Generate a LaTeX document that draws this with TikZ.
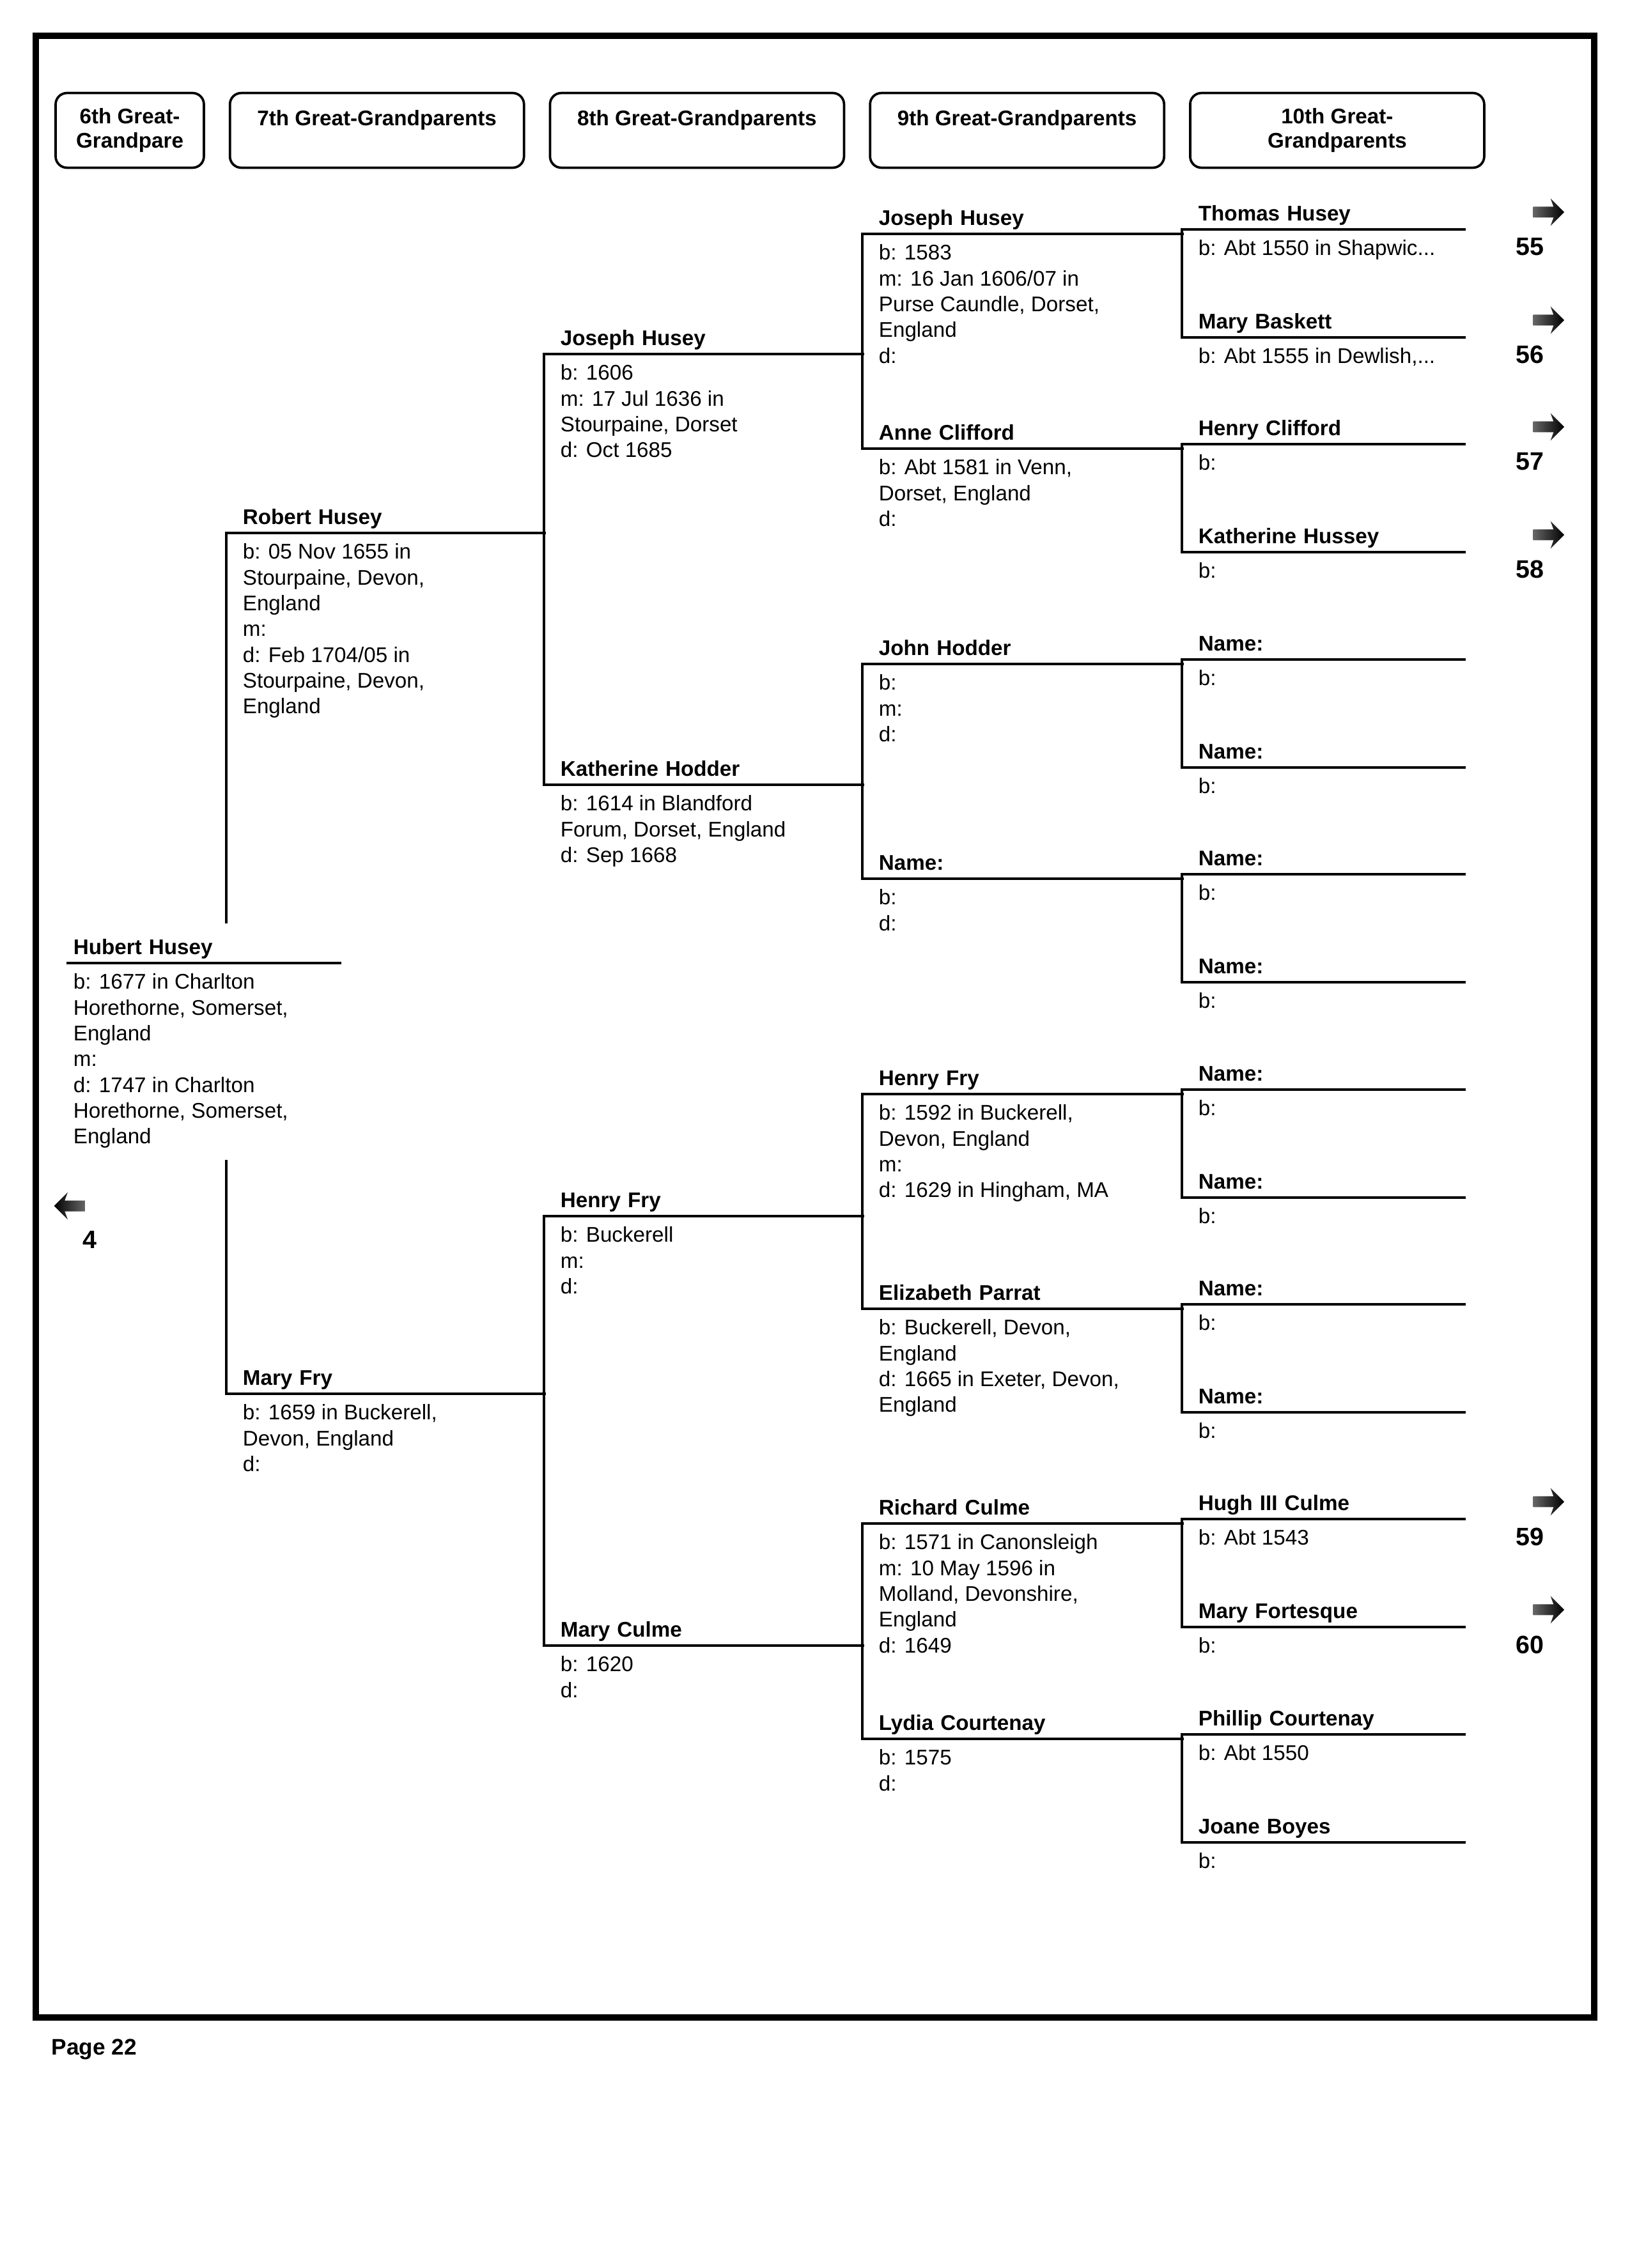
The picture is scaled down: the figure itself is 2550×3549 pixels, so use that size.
\documentclass[tikz,border=0pt]{standalone}
\usepackage{fontspec}
\setmainfont{Liberation Sans}
\usepackage{tikz}
\usetikzlibrary{positioning,shapes.arrows}
\tikzstyle{head} = [draw, line width=0.9pt, rounded corners=1.5mm,
    minimum width=38.95mm, minimum height=9.9mm, inner sep=0pt, align=center,
    font=\bfseries\fontsize{8}{9.2}\selectfont]
\tikzstyle{pname} = [anchor=south west, inner xsep=2.12mm, inner ysep=1.1mm,
    text depth=0pt, text width=37.9mm, font=\bfseries\fontsize{8}{9.7}\selectfont]
\tikzstyle{info} = [inner sep=0pt, align=left, font=\fontsize{8}{9.72}\selectfont]
\tikzstyle{jump} = [single arrow, minimum height=4.1mm, minimum width=3.4mm,
    inner xsep=0pt, inner ysep=0.65mm, single arrow head extend=1.1mm,
    single arrow head indent=0.4mm, left color=black!60, right color=black]
\tikzstyle{num} = [anchor=base, inner sep=0pt, font=\bfseries\fontsize{9.5}{11}\selectfont]
\tikzstyle{link} = [draw, line width=0.8pt, line cap=rect]

\begin{document}
\begin{tikzpicture}[x=0.084667mm, y=-0.084667mm]
  \useasboundingbox (0,0) rectangle (2550,3549);
  \draw[line width=2.6pt] (56,56) rectangle (2494,3157);
  % column heads
  \node [head, minimum width=19.64mm](g6) at (203,204){6th Great-\\Grandpare};
  \node [head, right=3.13mm of g6](g7){7th Great-Grandparents\\~};
  \node [head, right=3.13mm of g7](g8){8th Great-Grandparents\\~};
  \node [head, right=3.13mm of g8](g9){9th Great-Grandparents\\~};
  \node [head, right=3.13mm of g9](g10){10th Great-\\Grandparents};
  % people
  \node [pname, inner xsep=0.68mm, text width=34.63mm](hubert) at (106,1507){Hubert Husey};
  \node [info, below right=1.35mm and 0.68mm of hubert.south west](hubertI)
    {b: 1677 in Charlton\\Horethorne, Somerset,\\England\\m:\\d: 1747 in Charlton\\Horethorne, Somerset,\\England};

  \node [pname, text width=37.85mm](robert) at (354,834){Robert Husey};
  \node [info, below right=1.35mm and 2.12mm of robert.south west](robertI)
    {b: 05 Nov 1655 in\\Stourpaine, Devon,\\England\\m:\\d: Feb 1704/05 in\\Stourpaine, Devon,\\England};
  \node [pname, text width=37.85mm](maryfry) at (354,2181){Mary Fry};
  \node [info, below right=1.35mm and 2.12mm of maryfry.south west](maryfryI)
    {b: 1659 in Buckerell,\\Devon, England\\d:};

  \node [pname](josepha) at (851,554){Joseph Husey};
  \node [info, below right=1.35mm and 2.12mm of josepha.south west](josephaI)
    {b: 1606\\m: 17 Jul 1636 in\\Stourpaine, Dorset\\d: Oct 1685};
  \node [pname](katherine) at (851,1228){Katherine Hodder};
  \node [info, below right=1.35mm and 2.12mm of katherine.south west](katherineI)
    {b: 1614 in Blandford\\Forum, Dorset, England\\d: Sep 1668};
  \node [pname](henrya) at (851,1903){Henry Fry};
  \node [info, below right=1.35mm and 2.12mm of henrya.south west](henryaI)
    {b: Buckerell\\m:\\d:};
  \node [pname](maryculme) at (851,2575){Mary Culme};
  \node [info, below right=1.35mm and 2.12mm of maryculme.south west](maryculmeI)
    {b: 1620\\d:};

  \node [pname, text width=38.1mm](josephb) at (1349,366){Joseph Husey};
  \node [info, below right=1.35mm and 2.12mm of josephb.south west](josephbI)
    {b: 1583\\m: 16 Jan 1606/07 in\\Purse Caundle, Dorset,\\England\\d:};
  \node [pname, text width=38.1mm](anne) at (1349,702){Anne Clifford};
  \node [info, below right=1.35mm and 2.12mm of anne.south west](anneI)
    {b: Abt 1581 in Venn,\\Dorset, England\\d:};
  \node [pname, text width=38.1mm](john) at (1349,1039){John Hodder};
  \node [info, below right=1.35mm and 2.12mm of john.south west](johnI)
    {b:\\m:\\d:};
  \node [pname, text width=38.1mm](unka) at (1349,1375){Name:};
  \node [info, below right=1.35mm and 2.12mm of unka.south west](unkaI)
    {b:\\d:};
  \node [pname, text width=38.1mm](henryb) at (1349,1712){Henry Fry};
  \node [info, below right=1.35mm and 2.12mm of henryb.south west](henrybI)
    {b: 1592 in Buckerell,\\Devon, England\\m:\\d: 1629 in Hingham, MA};
  \node [pname, text width=38.1mm](elizabeth) at (1349,2048){Elizabeth Parrat};
  \node [info, below right=1.35mm and 2.12mm of elizabeth.south west](elizabethI)
    {b: Buckerell, Devon,\\England\\d: 1665 in Exeter, Devon,\\England};
  \node [pname, text width=38.1mm](richard) at (1349,2384){Richard Culme};
  \node [info, below right=1.35mm and 2.12mm of richard.south west](richardI)
    {b: 1571 in Canonsleigh\\m: 10 May 1596 in\\Molland, Devonshire,\\England\\d: 1649};
  \node [pname, text width=38.1mm](lydia) at (1349,2721){Lydia Courtenay};
  \node [info, below right=1.35mm and 2.12mm of lydia.south west](lydiaI)
    {b: 1575\\d:};

  \tikzstyle{pname4} = [pname, text width=33.1mm]
  \node [pname4](thomas) at (1849,359){Thomas Husey};
  \node [info, below right=1.35mm and 2.12mm of thomas.south west](thomasI)
    {b: Abt 1550 in Shapwic...};
  \node [pname4](marybaskett) at (1849,528){Mary Baskett};
  \node [info, below right=1.35mm and 2.12mm of marybaskett.south west](marybaskettI)
    {b: Abt 1555 in Dewlish,...};
  \node [pname4](henryc) at (1849,695){Henry Clifford};
  \node [info, below right=1.35mm and 2.12mm of henryc.south west](henrycI){b:};
  \node [pname4](katherineh) at (1849,864){Katherine Hussey};
  \node [info, below right=1.35mm and 2.12mm of katherineh.south west](katherinehI){b:};
  \foreach \i/\y in {b/1032, c/1201, d/1368, e/1537, f/1705, g/1874, h/2041, i/2210}{
    \node [pname4](unk\i) at (1849,\y){Name:};
    \node [info, below right=1.35mm and 2.12mm of unk\i.south west](unk\i I){b:};
  }
  \node [pname4](hugh) at (1849,2377){Hugh III Culme};
  \node [info, below right=1.35mm and 2.12mm of hugh.south west](hughI){b: Abt 1543};
  \node [pname4](maryf) at (1849,2546){Mary Fortesque};
  \node [info, below right=1.35mm and 2.12mm of maryf.south west](maryfI){b:};
  \node [pname4](phillip) at (1849,2714){Phillip Courtenay};
  \node [info, below right=1.35mm and 2.12mm of phillip.south west](phillipI){b: Abt 1550};
  \node [pname4](joane) at (1849,2883){Joane Boyes};
  \node [info, below right=1.35mm and 2.12mm of joane.south west](joaneI){b:};
  % jumps to other pages
  \foreach \p/\n in {thomas/55, marybaskett/56, henryc/57, katherineh/58, hugh/59, maryf/60}{
    \node [jump, above right=2.29mm and 10.75mm of \p.south east, anchor=center](go\n){};
    \node [num, below right=3.47mm and 8.64mm of \p.south east, anchor=base](no\n){\n};
  }
  \node [jump, shape border rotate=180, left color=black, right color=black!60](back) at (113,1887){};
  \node [num](no4) at (140,1953){4};
  \node [anchor=base west, inner sep=0pt, font=\bfseries\fontsize{8.5}{10}\selectfont](page) at (80,3215){Page 22};
  % edges
  \coordinate (upend) at (354,1443);
  \coordinate (dnend) at (354,1817);
  \foreach \p in {hubert, robert, maryfry, josepha, katherine, henrya, maryculme,
      josephb, anne, john, unka, henryb, elizabeth, richard, lydia,
      thomas, marybaskett, henryc, katherineh, unkb, unkc, unkd, unke,
      unkf, unkg, unkh, unki, hugh, maryf, phillip, joane}
    \path [link] (\p.south west) -- (\p.south east);
  \path [link] (robert.south west) -- (upend);
  \path [link] (dnend) -- (maryfry.south west);
  \path [link] (josepha.south west) -- (katherine.south west);
  \path [link] (henrya.south west) -- (maryculme.south west);
  \path [link] (josephb.south west) -- (anne.south west);
  \path [link] (john.south west) -- (unka.south west);
  \path [link] (henryb.south west) -- (elizabeth.south west);
  \path [link] (richard.south west) -- (lydia.south west);
  \path [link] (thomas.south west) -- (marybaskett.south west);
  \path [link] (henryc.south west) -- (katherineh.south west);
  \path [link] (unkb.south west) -- (unkc.south west);
  \path [link] (unkd.south west) -- (unke.south west);
  \path [link] (unkf.south west) -- (unkg.south west);
  \path [link] (unkh.south west) -- (unki.south west);
  \path [link] (hugh.south west) -- (maryf.south west);
  \path [link] (phillip.south west) -- (joane.south west);
\end{tikzpicture}
\end{document}
